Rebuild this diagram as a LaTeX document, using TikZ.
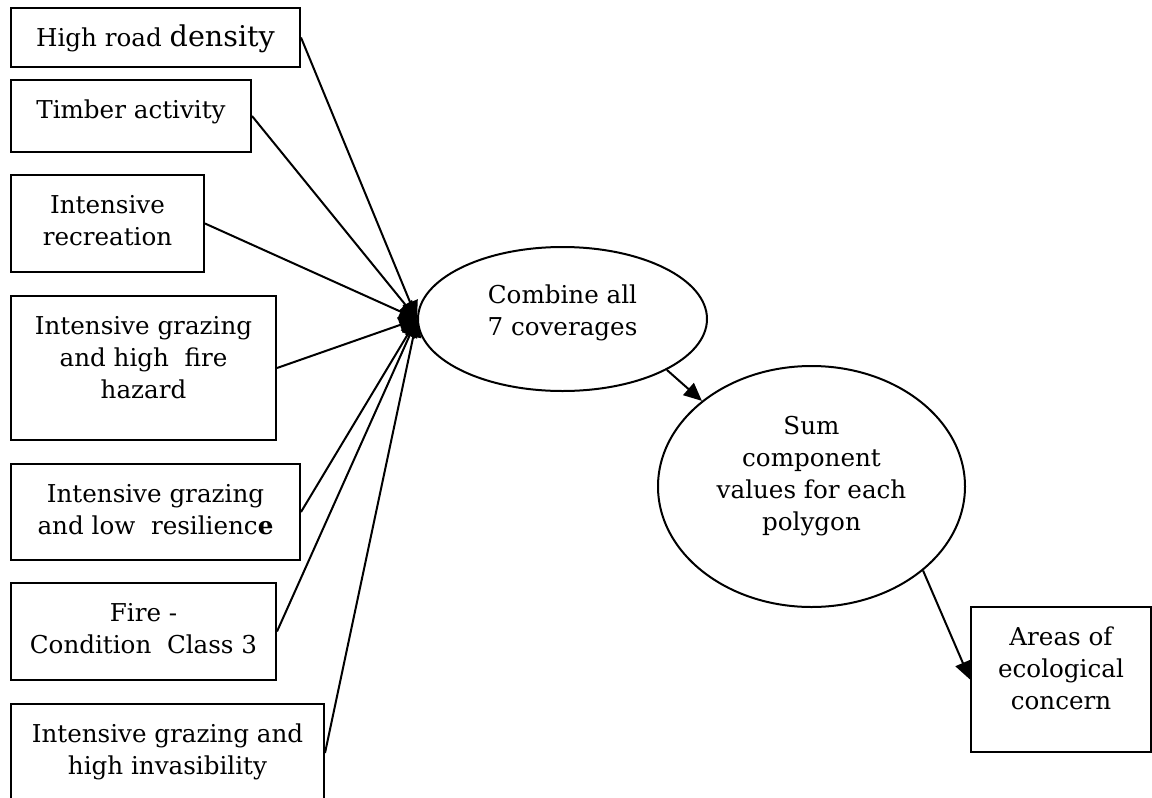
\documentclass[tikz,border=0pt]{standalone}
\usepackage{fontspec}
\setmainfont{DejaVu Serif}
\usetikzlibrary{shapes.geometric,arrows.meta}
\newcommand{\boxtext}[3]{\parbox[c][#2][t]{#1}{\centering\vspace*{7.8pt}\strut#3}}
\begin{document}
\begin{tikzpicture}[x=0.5pt,y=-0.5pt,
 every node/.style={font=\fontsize{12.3}{16}\selectfont},
 factor/.style={draw,line width=1pt,inner sep=0pt,anchor=north west},
 stage/.style={draw,ellipse,line width=1pt,inner sep=0pt,align=center},
 link/.style={line width=1pt,-{Triangle[length=9pt,width=8pt]}}]
 \useasboundingbox (0,0) rectangle (1152,798);
 %
 \node[factor] (road) at (10,7) {\boxtext{144.5pt}{29.5pt}{High road {\fontsize{14.3}{16}\selectfont density}}};
 \node[factor] (timber) at (10,79) {\boxtext{120pt}{36pt}{Timber activity}};
 \node[factor] (recreation) at (10,174) {\boxtext{96.5pt}{48.5pt}{Intensive\\recreation}};
 \node[factor] (firehazard) at (10,295) {\boxtext{132.5pt}{72pt}{Intensive grazing\\and high\ \ fire\\hazard}};
 \node[factor] (resilience) at (10,463) {\boxtext{144.5pt}{48pt}{Intensive grazing\\and low\ \ resilienc\textbf{e}}};
 \node[factor] (condition) at (10,582) {\boxtext{132.5pt}{48.5pt}{Fire -\\Condition\ \ Class 3}};
 \node[factor] (invasion) at (10,703) {\boxtext{156.5pt}{49pt}{Intensive grazing and\\high invasibility}};
 %
 \node[stage,minimum width=144.5pt,minimum height=72pt] (combine) at (562.5,319)
  {Combine all\\7 coverages\rule[-9pt]{0pt}{9pt}};
 \node[stage,minimum width=153.5pt,minimum height=120.5pt] (sum) at (811.5,486.5)
  {Sum\\component\\values for each\\polygon\rule[-13pt]{0pt}{13pt}};
 \node[factor] (area) at (970,606) {\boxtext{90pt}{72.5pt}{Areas of\\ecological\\concern}};
 %
 \foreach \f in {road,timber,recreation,firehazard,resilience,condition,invasion}
  \draw[link] (\f.east) -- (combine.west);
 %
 \draw[link] (combine.-26) -- (sum.142);
 \draw[link] (sum.-37) -- (area.west);
\end{tikzpicture}
\end{document}
